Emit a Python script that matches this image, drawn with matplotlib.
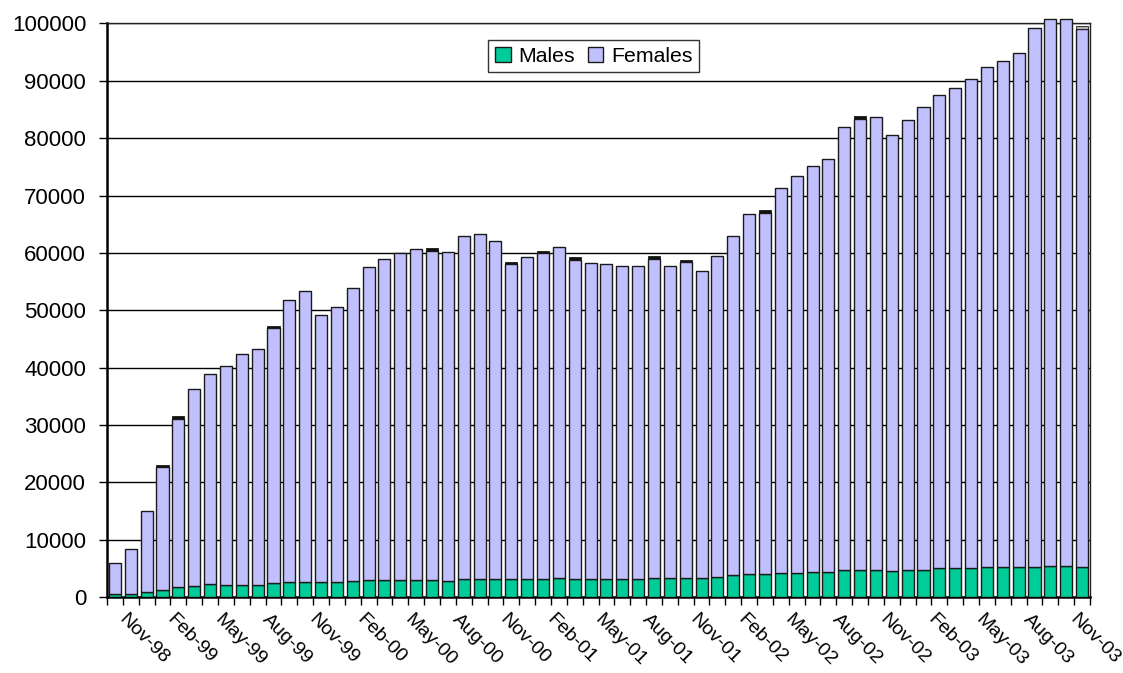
import numpy as np
import matplotlib
matplotlib.use("Agg")
import matplotlib.pyplot as plt
import matplotlib.transforms as mtransforms

# monthly figures, Oct-98 .. Nov-03
start_year, start_month = 1998, 10
n_months = 62
month_names = ['Jan', 'Feb', 'Mar', 'Apr', 'May', 'Jun',
               'Jul', 'Aug', 'Sep', 'Oct', 'Nov', 'Dec']

totals = [5900, 8400, 15000, 23100, 31500, 36300, 38800, 40300, 42300, 43300,
          47300, 51800, 53300, 49100, 50600, 53900, 57600, 58900, 59900, 60600,
          60800, 60200, 62900, 63300, 62000, 58400, 59300, 60300, 61000, 59200,
          58300, 58100, 57800, 57800, 59400, 57800, 58800, 56900, 59500, 62900,
          66800, 67400, 71300, 73400, 75100, 76300, 81900, 83800, 83700, 80500,
          83100, 85500, 87600, 88800, 90300, 92500, 93500, 94800, 99300, 100700,
          100800, 99500]

males = [460, 460, 870, 1280, 1680, 1970, 2200, 2150, 2150, 2150,
         2380, 2550, 2550, 2550, 2550, 2770, 3000, 3000, 3000, 3000,
         3000, 2850, 3150, 3150, 3150, 3150, 3150, 3150, 3370, 3150,
         3150, 3150, 3150, 3150, 3370, 3370, 3370, 3370, 3520, 3820,
         4040, 4040, 4190, 4190, 4420, 4420, 4790, 4790, 4790, 4570,
         4790, 4790, 5090, 5090, 5090, 5240, 5240, 5240, 5240, 5470,
         5470, 5240]

# small unlabelled remainder drawn on top of some bars
unknown = [0, 0, 0, 400, 400, 0, 0, 0, 0, 0,
           400, 0, 0, 0, 0, 0, 0, 0, 0, 0,
           400, 0, 0, 0, 0, 400, 0, 400, 0, 400,
           0, 0, 0, 0, 400, 0, 400, 0, 0, 0,
           0, 400, 0, 0, 0, 0, 0, 400, 0, 0,
           0, 0, 0, 0, 0, 0, 0, 0, 0, 0,
           0, 500]

labels = []
for i in range(n_months):
    m = (start_month - 1 + i) % 12
    y = start_year + (start_month - 1 + i) // 12
    labels.append('%s-%02d' % (month_names[m], y % 100))

totals = np.array(totals)
males = np.array(males)
unknown = np.array(unknown)
females = totals - males - unknown

plt.rcParams['font.family'] = ['Liberation Sans', 'DejaVu Sans']

fig = plt.figure(figsize=(11.23, 6.73), dpi=100)
ax = fig.add_axes([0.0953, 0.1129, 0.8753, 0.8522])

x = np.arange(n_months)
w = 0.76
green = '#00CC99'
lilac = '#C0C0FF'
edge = '#1a1a1a'

ax.bar(x, males, w, color=green, edgecolor=edge, linewidth=1, label='Males', zorder=3)
ax.bar(x, females, w, bottom=males, color=lilac, edgecolor=edge, linewidth=1,
       label='Females', zorder=3, clip_on=False)
top_cols = ['#b0b0b0' if i == n_months - 1 else '#111111' for i in range(n_months)]
ax.bar(x, unknown, w, bottom=males + females, color=top_cols, edgecolor=edge,
       linewidth=0.6, zorder=3, clip_on=False)

ax.set_xlim(-0.5, n_months - 0.5)
ax.set_ylim(0, 100000)
ax.set_yticks(np.arange(0, 100001, 10000))
ax.set_yticklabels([str(v) for v in range(0, 100001, 10000)], fontsize=16)
ax.yaxis.grid(True, color='black', linewidth=1)
ax.set_axisbelow(True)

# ticks between categories, labels every third month
ax.set_xticks(np.arange(-0.5, n_months, 1), minor=True)
lab_pos = x[1::3]
ax.set_xticks(lab_pos)
ax.set_xticklabels([labels[i] for i in lab_pos], fontsize=14, rotation=-45,
                   ha='left', va='top', rotation_mode='anchor')
ax.tick_params(axis='x', which='major', length=0, pad=10)
ax.tick_params(axis='x', which='minor', length=6, width=1, direction='out')
ax.tick_params(axis='y', length=6, width=1, direction='out', pad=9)
offset = mtransforms.ScaledTranslation(-3 / 100, 0, fig.dpi_scale_trans)
for t in ax.get_xticklabels():
    t.set_transform(t.get_transform() + offset)

for s in ['left', 'bottom']:
    ax.spines[s].set_linewidth(1.8)
for s in ['top', 'right']:
    ax.spines[s].set_linewidth(1.0)
    ax.spines[s].set_color('#222222')

leg = ax.legend(loc='center', bbox_to_anchor=(0.495, 0.943), ncol=2, fontsize=15.3,
                frameon=True, fancybox=False, edgecolor='black', handlelength=0.75,
                handleheight=0.75, handletextpad=0.35, columnspacing=0.6,
                borderpad=0.3, borderaxespad=0)
leg.get_frame().set_linewidth(1)
leg.set_zorder(5)

fig.savefig('out.png', dpi=100)
